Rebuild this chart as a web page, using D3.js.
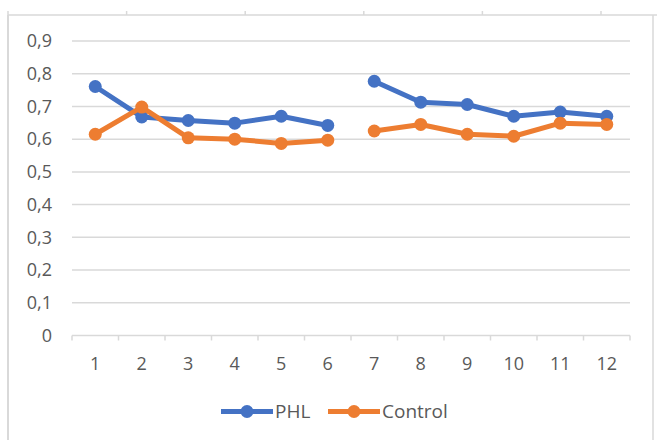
<!DOCTYPE html>
<html>
<head>
<meta charset="utf-8">
<script src="https://cdn.jsdelivr.net/npm/d3@7"></script>
<style>
  body { margin: 0; background: #fff; }
  svg { display: block; font-family: "Open Sans", "Noto Sans", sans-serif; }
</style>
</head>
<body>
<div id="chart"></div>
<script>
(function(){
  // data
  const categories = [1, 2, 3, 4, 5, 6, 7, 8, 9, 10, 11, 12];
  const phl = [0.761, 0.668, 0.657, 0.649, 0.670, 0.642, 0.777, 0.713, 0.706, 0.670, 0.683, 0.670];
  const control = [0.615, 0.698, 0.604, 0.600, 0.587, 0.597, 0.625, 0.645, 0.615, 0.609, 0.649, 0.645];
  const gapAfter = 6; // lines are broken between 6 and 7
  const yTicks = [0, 0.1, 0.2, 0.3, 0.4, 0.5, 0.6, 0.7, 0.8, 0.9];
  const seriesNames = ["PHL", "Control"];
  const colors = ["#4472C4", "#ED7D31"];

  const width = 657, height = 440;
  const svg = d3.select("#chart").append("svg")
    .attr("width", width)
    .attr("height", height);

  const grey = "#d9d9d9";
  const textCol = "#595959";

  // frame (spreadsheet cell border around the chart)
  const frame = svg.append("g").attr("stroke", grey).attr("stroke-width", 1.5).attr("fill", "none");
  frame.append("line").attr("x1", 8).attr("x2", width).attr("y1", 15).attr("y2", 15);
  frame.append("line").attr("x1", 8).attr("x2", 8).attr("y1", 15).attr("y2", height).attr("stroke-width", 2);
  frame.append("line").attr("x1", 653).attr("x2", 653).attr("y1", 15).attr("y2", height);
  d3.range(8, width, 118.6).forEach(x => {
    frame.append("line").attr("x1", x).attr("x2", x).attr("y1", 11).attr("y2", 15);
  });

  const x = d3.scaleBand().domain(categories).range([72, 630]);
  const y = d3.scaleLinear().domain([0, 0.9]).range([335.5, 41]);

  // gridlines
  svg.append("g").selectAll("line")
    .data(yTicks.filter(d => d > 0))
    .enter().append("line")
    .attr("x1", 72).attr("x2", 630)
    .attr("y1", d => y(d)).attr("y2", d => y(d))
    .attr("stroke", grey).attr("stroke-width", 1.5);

  // y labels
  const fmt = d => d === 0 ? "0" : d3.format(".1f")(d).replace(".", ",");
  svg.append("g").selectAll("text")
    .data(yTicks)
    .enter().append("text")
    .attr("x", 52)
    .attr("y", d => y(d))
    .attr("dy", "0.35em")
    .attr("text-anchor", "end")
    .attr("fill", textCol)
    .style("font-size", "18px")
    .text(fmt);

  // x axis
  const xa = svg.append("g").attr("stroke", grey).attr("stroke-width", 1.5);
  xa.append("line").attr("x1", 72).attr("x2", 630).attr("y1", y(0)).attr("y2", y(0));
  const bounds = categories.map(c => x(c)).concat([x(categories[categories.length - 1]) + x.bandwidth()]);
  xa.selectAll(".tk").data(bounds).enter().append("line")
    .attr("x1", d => d).attr("x2", d => d)
    .attr("y1", y(0)).attr("y2", y(0) + 5);

  svg.append("g").selectAll("text")
    .data(categories)
    .enter().append("text")
    .attr("x", d => x(d) + x.bandwidth() / 2)
    .attr("y", 364)
    .attr("dy", "0.35em")
    .attr("text-anchor", "middle")
    .attr("fill", textCol)
    .style("font-size", "18px")
    .text(d => d);

  // series
  const line = d3.line()
    .x(d => x(d.c) + x.bandwidth() / 2)
    .y(d => y(d.v));

  [phl, control].forEach((vals, i) => {
    const pts = categories.map((c, j) => ({c: c, v: vals[j]}));
    const segs = [pts.filter(p => p.c <= gapAfter), pts.filter(p => p.c > gapAfter)];
    const g = svg.append("g");
    g.selectAll("path").data(segs).enter().append("path")
      .attr("d", line)
      .attr("fill", "none")
      .attr("stroke", colors[i])
      .attr("stroke-width", 5)
      .attr("stroke-linejoin", "round");
    g.selectAll("circle").data(pts).enter().append("circle")
      .attr("cx", d => x(d.c) + x.bandwidth() / 2)
      .attr("cy", d => y(d.v))
      .attr("r", 6.5)
      .attr("fill", colors[i]);
  });

  // legend
  const legendX = [221, 328];
  const leg = svg.append("g");
  seriesNames.forEach((name, i) => {
    const lx = legendX[i];
    leg.append("line")
      .attr("x1", lx).attr("x2", lx + 52)
      .attr("y1", 411.5).attr("y2", 411.5)
      .attr("stroke", colors[i]).attr("stroke-width", 5);
    leg.append("circle")
      .attr("cx", lx + 26).attr("cy", 411.5).attr("r", 6.5)
      .attr("fill", colors[i]);
    leg.append("text")
      .attr("x", lx + 54).attr("y", 411.5)
      .attr("dy", "0.35em")
      .attr("fill", textCol)
      .style("font-size", "19px")
      .text(name);
  });
})();
</script>
</body>
</html>
